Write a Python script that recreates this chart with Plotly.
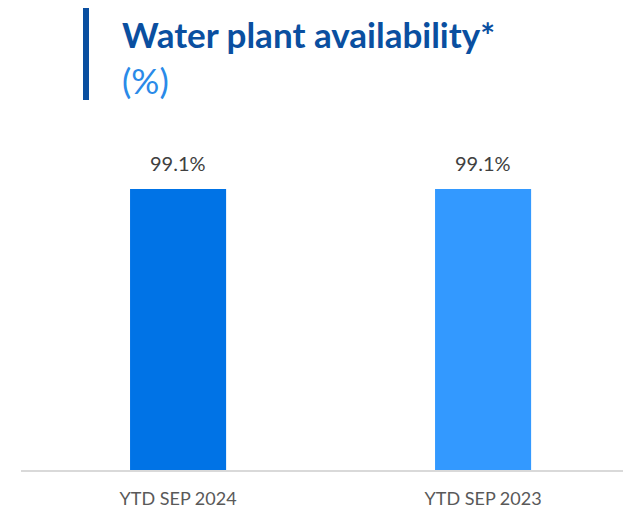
import plotly.graph_objs as go

periods = ['YTD SEP 2024', 'YTD SEP 2023']
availability = [99.1, 99.1]
value_labels = ['99.1%', '99.1%']
bar_colors = ['#0073E6', '#3399FF']

FONT = 'Lato'

bars = go.Bar(x=periods, y=availability,
              marker=dict(color=bar_colors, line=dict(width=0)),
              width=0.315, hoverinfo='x+y')

# value labels sit a little above each bar
labels = [dict(x=p, y=v, text=t, xref='x', yref='y', showarrow=False,
               yanchor='middle', yshift=26,
               font=dict(family=FONT, size=20, color='#404040'))
          for p, v, t in zip(periods, availability, value_labels)]

layout = go.Layout(
    width=623, height=504,
    margin=dict(l=13, r=0, t=92, b=42, autoexpand=False),
    paper_bgcolor='white', plot_bgcolor='white',
    showlegend=False,
    xaxis=dict(type='category', range=[-0.515, 1.485], showgrid=False,
               showline=True, linecolor='#D9D9D9', linewidth=2,
               ticks='', ticklabelstandoff=11,
               tickfont=dict(family=FONT, size=18, color='#595959')),
    yaxis=dict(range=[0, 130.5], visible=False, showgrid=False),
    shapes=[dict(type='line', xref='paper', yref='paper',
                 x0=0.1066, x1=0.1066, y0=1.0, y1=1.249,
                 line=dict(color='#0A4FA0', width=6))],
    annotations=labels + [
        dict(text='<b>Water plant availability*</b>', xref='paper', yref='paper',
             x=0.162, y=1.178, xanchor='left', yanchor='middle', showarrow=False,
             font=dict(family=FONT, size=35, color='#0A4FA0')),
        dict(text='(%)', xref='paper', yref='paper',
             x=0.162, y=1.054, xanchor='left', yanchor='middle', showarrow=False,
             font=dict(family=FONT, size=35, color='#2A8AE8')),
    ],
)

fig = go.Figure(data=[bars], layout=layout)
fig.write_html("out.html")
